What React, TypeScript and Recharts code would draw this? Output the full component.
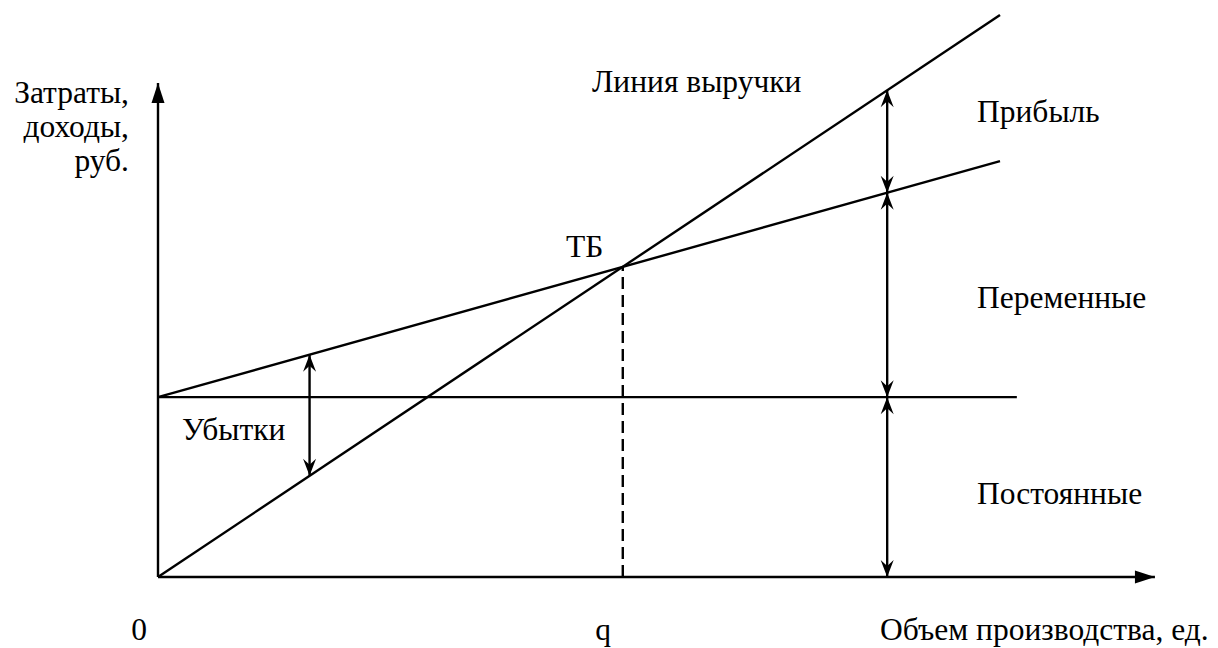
import React from 'react'
import { LineChart, Line, XAxis, YAxis, ReferenceLine } from 'recharts'

// break-even chart, units are arbitrary (volume 0..100, money 0..100)
const volume = [0, 100]
const revenue = [0, 100]
const totalCost = [32, 74]
const fixedVolume = [0, 102]
const fixedCost = [32, 32]
const breakEven = 55.2
const lossAt = 18
const profitAt = 86.6
const xAxisEnd = 118.4
const yAxisEnd = 87.9

const revenueData = volume.map((x, i) => ({ x, y: revenue[i] }))
const costData = volume.map((x, i) => ({ x, y: totalCost[i] }))
const fixedData = fixedVolume.map((x, i) => ({ x, y: fixedCost[i] }))

// value of a two-point line at volume x
const at = (ys: number[], x: number) =>
  ys[0] + ((ys[1] - ys[0]) * (x - volume[0])) / (volume[1] - volume[0])

const INK = '#000'
const SW = 2.4
const FONT = 'Liberation Serif'

type Pt = [number, number]

const head = (tip: Pt, from: Pt, len: number, half: number, notch: number) => {
  const vx = tip[0] - from[0]
  const vy = tip[1] - from[1]
  const d = Math.hypot(vx, vy) || 1
  const dx = vx / d
  const dy = vy / d
  const bx = tip[0] - dx * len
  const by = tip[1] - dy * len
  const px = -dy
  const py = dx
  const pts = [
    [tip[0], tip[1]],
    [bx + px * half, by + py * half],
    [tip[0] - dx * notch, tip[1] - dy * notch],
    [bx - px * half, by - py * half],
  ]
  return <polygon points={pts.map((p) => p.join(',')).join(' ')} fill={INK} />
}

const axisArrow = (props: any) => {
  const { x1, y1, x2, y2 } = props
  if (x1 == null) return <g />
  return (
    <g>
      <line x1={x1} y1={y1} x2={x2} y2={y2} stroke={INK} strokeWidth={SW} />
      {head([x2, y2], [x1, y1], 20, 6.5, 20)}
    </g>
  )
}

const doubleArrow = (props: any) => {
  const { x1, y1, x2, y2 } = props
  if (x1 == null) return <g />
  return (
    <g>
      <line x1={x1} y1={y1} x2={x2} y2={y2} stroke={INK} strokeWidth={SW} />
      {head([x1, y1], [x2, y2], 17, 6.5, 11)}
      {head([x2, y2], [x1, y1], 17, 6.5, 11)}
    </g>
  )
}

const labels: { text: string; x: number; y: number; anchor?: 'start' | 'middle' | 'end' }[] = [
  { text: 'Затраты,', x: 129, y: 103, anchor: 'end' },
  { text: 'доходы,', x: 129, y: 137, anchor: 'end' },
  { text: 'руб.', x: 129, y: 171, anchor: 'end' },
  { text: 'Линия выручки', x: 592, y: 92 },
  { text: 'Прибыль', x: 977, y: 122 },
  { text: 'ТБ', x: 566, y: 257 },
  { text: 'Переменные', x: 977, y: 308 },
  { text: 'Убытки', x: 182, y: 440 },
  { text: 'Постоянные', x: 977, y: 504 },
  { text: '0', x: 139, y: 640, anchor: 'middle' },
  { text: 'q', x: 603, y: 640, anchor: 'middle' },
  { text: 'Объем производства, ед.', x: 880, y: 640 },
]

export default function App() {
  return (
    <div
      style={{
        position: 'absolute', left: 0, top: 0, width: 1218, height: 648, background: '#fff', fontFamily: FONT,
      }}
    >
      <LineChart width={1218} height={648} margin={{ top: 15, right: 49.6, bottom: 71, left: 158 }}>
        <XAxis type="number" dataKey="x" domain={[0, 120]} hide />
        <YAxis type="number" dataKey="y" domain={[0, 100]} hide />
        <ReferenceLine segment={[{ x: 0, y: 0 }, { x: 0, y: yAxisEnd }]} shape={axisArrow} />
        <ReferenceLine segment={[{ x: 0, y: 0 }, { x: xAxisEnd, y: 0 }]} shape={axisArrow} />
        <Line data={fixedData} dataKey="y" type="linear" stroke={INK} strokeWidth={SW} dot={false} activeDot={false} isAnimationActive={false} />
        <Line data={costData} dataKey="y" type="linear" stroke={INK} strokeWidth={SW} dot={false} activeDot={false} isAnimationActive={false} />
        <Line data={revenueData} dataKey="y" type="linear" stroke={INK} strokeWidth={SW} dot={false} activeDot={false} isAnimationActive={false} />
        <ReferenceLine
          segment={[{ x: breakEven, y: 0 }, { x: breakEven, y: at(revenue, breakEven) }]}
          stroke={INK}
          strokeWidth={SW}
          strokeDasharray="12 6"
        />
        <ReferenceLine
          segment={[{ x: lossAt, y: at(totalCost, lossAt) }, { x: lossAt, y: at(revenue, lossAt) }]}
          shape={doubleArrow}
        />
        <ReferenceLine
          segment={[{ x: profitAt, y: at(revenue, profitAt) }, { x: profitAt, y: at(totalCost, profitAt) }]}
          shape={doubleArrow}
        />
        <ReferenceLine
          segment={[{ x: profitAt, y: at(totalCost, profitAt) }, { x: profitAt, y: fixedCost[0] }]}
          shape={doubleArrow}
        />
        <ReferenceLine segment={[{ x: profitAt, y: fixedCost[0] }, { x: profitAt, y: 0 }]} shape={doubleArrow} />
      </LineChart>
      <svg
        width={1218}
        height={648}
        fontFamily={FONT}
        style={{ position: 'absolute', left: 0, top: 0, pointerEvents: 'none', fontFamily: FONT }}
      >
        {labels.map((l) => (
          <text
            key={l.text}
            x={l.x}
            y={l.y}
            textAnchor={l.anchor ?? 'start'}
            fontFamily={FONT}
            style={{ fontFamily: FONT, fontSize: 31.5 }}
            fill={INK}
          >
            {l.text}
          </text>
        ))}
      </svg>
    </div>
  )
}
